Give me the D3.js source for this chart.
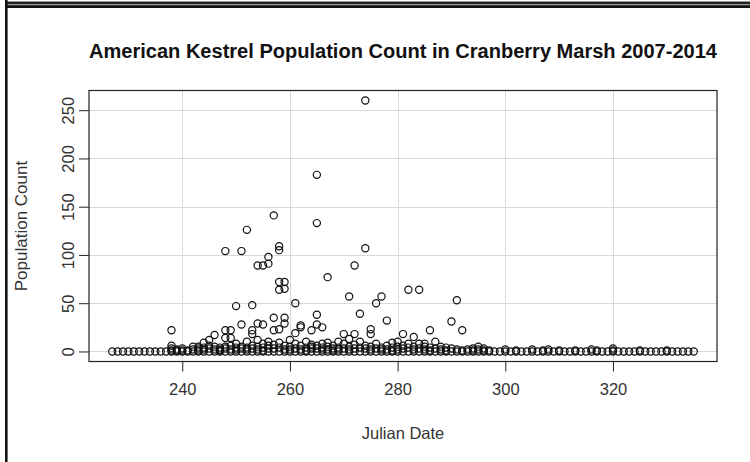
<!DOCTYPE html>
<html>
<head>
<meta charset="utf-8">
<script src="https://cdn.jsdelivr.net/npm/d3@7"></script>
<style>
  html, body { margin: 0; padding: 0; background: #fff; }
  svg { display: block; }
  text { font-family: "Liberation Sans", Arial, sans-serif; }
</style>
</head>
<body>
<svg id="chart" width="750" height="462"></svg>
<script>
// Survey days with no kestrels counted (one zero observation per day shown).
const zeroDays = [
  227,228,229,230,231,232,233,234,235,236,237,238,239,240,241,242,243,244,245,246,
  247,248,249,250,251,252,253,254,255,256,257,258,259,260,261,262,263,264,265,266,
  267,268,269,270,271,272,273,274,275,276,277,278,279,280,281,282,283,284,285,286,
  287,288,289,290,291,292,293,294,295,296,297,298,299,300,301,302,303,304,305,306,
  307,308,309,310,311,312,313,314,315,316,317,318,319,320,321,322,323,324,325,326,
  327,328,329,330,331,332,333,334,335
];

// Days with non-zero counts and the counts recorded on them (2007-2014 pooled).
const countDays = [
  238,238,238,238, 239,239, 240,240, 241, 242,242, 243,243,243, 244,244,244,
  245,245,245, 246,246,246, 247,247,247, 248,248,248,248,248, 249,249,249,249,
  250,250,250,250, 251,251,251,251, 252,252,252,252, 253,253,253,253,253,
  254,254,254,254,254, 255,255,255,255,255, 256,256,256,256,256,
  257,257,257,257,257, 258,258,258,258,258,258,258, 259,259,259,259,259,259,
  260,260,260, 261,261,261,261, 262,262,262,262, 263,263,263, 264,264,264,264,
  265,265,265,265,265,265, 266,266,266,266, 267,267,267,267, 268,268,268,
  269,269,269, 270,270,270, 271,271,271,271, 272,272,272,272, 273,273,273,
  274,274,274,274, 275,275,275,275, 276,276,276, 277,277,277, 278,278,278,
  279,279,279, 280,280,280, 281,281,281, 282,282,282, 283,283,283, 284,284,284,
  285,285,285, 286,286,286, 287,287, 288,288, 289,289, 290,290, 291,291, 292,292,
  293, 294,294, 295,295, 296,296, 297, 300, 302, 305, 307, 308, 310, 313, 316, 317,
  320,320, 325, 330
];
const countValues = [
  22,6,3,1, 2,1, 1,3, 1, 5,2, 5,1,3, 9,4,2,
  12,6,3, 17,5,2, 4,2,1, 104,22,14,5,3, 22,14,6,2,
  47,8,4,2, 104,28,5,3, 126,10,4,2, 48,22,18,6,3,
  89,29,12,5,2, 89,28,8,4,1, 98,91,10,6,3,
  141,35,22,7,3, 109,105,72,64,23,9,4, 72,65,35,29,6,2,
  12,5,2, 50,19,8,3, 27,25,6,2, 10,4,1, 22,5,3,7,
  183,133,38,28,6,3, 25,8,4,2, 77,9,5,2, 6,3,1,
  10,4,2, 18,8,3, 57,13,5,2, 89,18,7,3, 39,10,4,
  260,107,6,3, 23,18,5,2, 50,8,3, 57,4,2, 32,6,2,
  9,4,1, 10,5,2, 18,6,3, 64,8,4, 15,5,2, 64,8,3,
  8,5,2, 22,4,1, 10,3, 5,2, 4,1, 31,3, 53,2, 22,1,
  2, 3,1, 5,2, 3,1, 1, 2, 1, 2, 1, 2, 1, 1, 2, 1,
  3,1, 1, 1
];

const xTicks = [240, 260, 280, 300, 320];
const yTicks = [0, 50, 100, 150, 200, 250];

const chartTitle = "American Kestrel Population Count in Cranberry Marsh 2007-2014";
const xLabel = "Julian Date";
const yLabel = "Population Count";

const points = zeroDays.map(d => ({ day: d, count: 0 }))
  .concat(countDays.map((d, i) => ({ day: d, count: countValues[i] })));

const svg = d3.select("#chart");
const font = "'Liberation Sans', Arial, sans-serif";

// Window frame around the figure
svg.append("rect").attr("x", 5).attr("y", 1.5).attr("width", 745).attr("height", 2.5).attr("fill", "#222");
svg.append("rect").attr("x", 5).attr("y", 4).attr("width", 745).attr("height", 1.2).attr("fill", "#999");
svg.append("rect").attr("x", 5).attr("y", 5.2).attr("width", 745).attr("height", 2.8).attr("fill", "#111");
svg.append("rect").attr("x", 5).attr("y", 0).attr("width", 2.6).attr("height", 462).attr("fill", "#111");

// Plot region; axis ranges padded by 4% of the data range on each side
const box = { left: 89, right: 717, top: 90.5, bottom: 361.5 };
const xMin = d3.min(points, d => d.day), xMax = d3.max(points, d => d.day);
const yMin = d3.min(points, d => d.count), yMax = d3.max(points, d => d.count);
const xPad = (xMax - xMin) * 0.04, yPad = (yMax - yMin) * 0.04;

const x = d3.scaleLinear().domain([xMin - xPad, xMax + xPad]).range([box.left, box.right]);
const y = d3.scaleLinear().domain([yMin - yPad, yMax + yPad]).range([box.bottom, box.top]);

// Grid lines
const grid = svg.append("g").attr("stroke", "#d9d9d9").attr("stroke-width", 1);
grid.selectAll("line.gx").data(xTicks).join("line")
  .attr("x1", d => Math.round(x(d)) + 0.5).attr("x2", d => Math.round(x(d)) + 0.5)
  .attr("y1", box.top).attr("y2", box.bottom);
grid.selectAll("line.gy").data(yTicks).join("line")
  .attr("y1", d => Math.round(y(d)) + 0.5).attr("y2", d => Math.round(y(d)) + 0.5)
  .attr("x1", box.left).attr("x2", box.right);

// Points (open circles)
svg.append("g")
  .selectAll("circle").data(points).join("circle")
  .attr("cx", d => x(d.day))
  .attr("cy", d => y(d.count))
  .attr("r", 3.6)
  .attr("fill", "none")
  .attr("stroke", "#111")
  .attr("stroke-width", 1.2);

// Plot box
svg.append("rect")
  .attr("x", box.left).attr("y", box.top)
  .attr("width", box.right - box.left).attr("height", box.bottom - box.top)
  .attr("fill", "none").attr("stroke", "#222").attr("stroke-width", 1.2);

// X axis
const xAxis = svg.append("g")
  .attr("transform", `translate(0,${box.bottom})`)
  .call(d3.axisBottom(x).tickValues(xTicks).tickSize(10).tickPadding(12).tickFormat(d3.format("d")));
xAxis.select(".domain").remove();
xAxis.selectAll(".tick line").attr("stroke", "#222");
xAxis.selectAll(".tick text")
  .attr("fill", "#333").attr("font-size", 16.5)
  .style("font-family", font);

// Y axis with labels running parallel to the axis
const yAxis = svg.append("g")
  .attr("transform", `translate(${box.left},0)`)
  .call(d3.axisLeft(y).tickValues(yTicks).tickSize(10).tickFormat(d3.format("d")));
yAxis.select(".domain").remove();
yAxis.selectAll(".tick line").attr("stroke", "#222");
yAxis.selectAll(".tick text")
  .attr("x", null).attr("dy", null)
  .attr("text-anchor", "middle")
  .attr("transform", "translate(-21,0) rotate(-90)")
  .attr("dy", "0.36em")
  .attr("fill", "#333").attr("font-size", 16.5)
  .style("font-family", font);

// Title and axis labels
svg.append("text")
  .attr("x", (box.left + box.right) / 2).attr("y", 58)
  .attr("text-anchor", "middle")
  .attr("font-size", 20).attr("font-weight", "bold").attr("fill", "#111")
  .attr("textLength", 628).attr("lengthAdjust", "spacingAndGlyphs")
  .text(chartTitle);

svg.append("text")
  .attr("x", (box.left + box.right) / 2).attr("y", 439)
  .attr("text-anchor", "middle")
  .attr("font-size", 16.5).attr("fill", "#333")
  .text(xLabel);

svg.append("text")
  .attr("transform", `translate(27,${(box.top + box.bottom) / 2}) rotate(-90)`)
  .attr("text-anchor", "middle")
  .attr("font-size", 17).attr("fill", "#333")
  .text(yLabel);
</script>
</body>
</html>
